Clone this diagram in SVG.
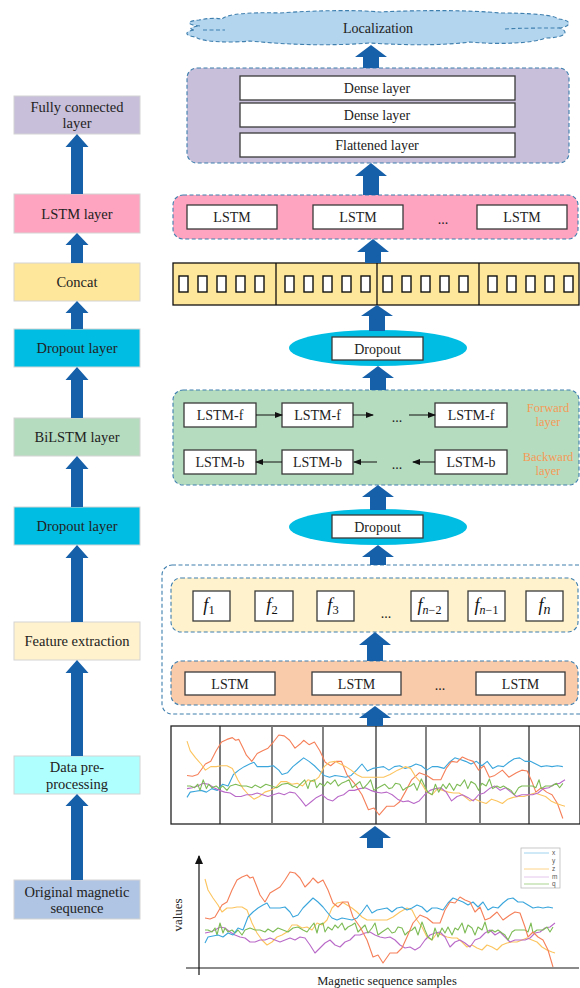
<svg xmlns="http://www.w3.org/2000/svg" width="580" height="988" viewBox="0 0 580 988">
<style>
.t{font-family:"Liberation Serif","Times New Roman",serif;fill:#222;text-anchor:middle}
.ls{font-size:14.5px}
.rs{font-size:14px}
.lb{stroke:#d4d4d4;stroke-width:1}
.fat{fill:#1660aa}
.cont{stroke:#3f7fae;stroke-width:1.1;stroke-dasharray:4 2.5}
.wb{fill:#fff;stroke:#3a3a3a;stroke-width:1.3}
.sq{fill:#fff;stroke:#111;stroke-width:1.4}
.or{font-family:"Liberation Serif",serif;font-size:12.5px;fill:#f59a55;text-anchor:middle}
.sm{stroke:#111;stroke-width:1;fill:none}
.ln{fill:none;stroke-width:1.1;stroke-linejoin:round}
.cx{stroke:#3aa6dc}.cy{stroke:#f57f58}.cz{stroke:#fcc45e}.cm{stroke:#b969c8}.cq{stroke:#7dbb55}
.fi{font-family:"Liberation Serif",serif;font-style:italic;font-size:18px;fill:#111;text-anchor:middle}
</style>
<defs>
<marker id="ah" markerWidth="8" markerHeight="6" refX="7" refY="3" orient="auto" markerUnits="userSpaceOnUse">
<path d="M0,0 L8,3 L0,6 Z" fill="#111"/>
</marker>
<marker id="ax" markerWidth="8" markerHeight="9" refX="4" refY="1" orient="0" markerUnits="userSpaceOnUse">
<path d="M0,9 L4,0 L8,9 Z" fill="#111"/>
</marker>
</defs>
<rect width="580" height="988" fill="#fff"/>

<!-- Left column -->
<g id="l-fc"><rect class="lb" x="14" y="96" width="126" height="38" fill="#c8bfda"/><text class="t ls" x="77" y="111.5">Fully connected</text><text class="t ls" x="77" y="127.5">layer</text></g>
<g id="l-lstm"><rect class="lb" x="14" y="194" width="126" height="39" fill="#ffa4c0"/><text class="t ls" x="77" y="218.5">LSTM layer</text></g>
<g id="l-concat"><rect class="lb" x="14" y="263" width="126" height="38" fill="#fee69a"/><text class="t ls" x="77" y="287">Concat</text></g>
<g id="l-drop1"><rect class="lb" x="14" y="329" width="126" height="38" fill="#00bde3"/><text class="t ls" x="77" y="353">Dropout layer</text></g>
<g id="l-bilstm"><rect class="lb" x="14" y="418" width="126" height="38" fill="#b6dcc0"/><text class="t ls" x="77" y="442">BiLSTM layer</text></g>
<g id="l-drop2"><rect class="lb" x="14" y="507" width="126" height="38" fill="#00bde3"/><text class="t ls" x="77" y="531">Dropout layer</text></g>
<g id="l-feat"><rect class="lb" x="14" y="622" width="126" height="38" fill="#fff2cc"/><text class="t ls" x="77" y="646">Feature extraction</text></g>
<g id="l-data"><rect class="lb" x="14" y="756" width="126" height="38" fill="#b0ffff"/><text class="t ls" x="77" y="771.5">Data pre-</text><text class="t ls" x="77" y="788.5">processing</text></g>
<g id="l-orig"><rect class="lb" x="14" y="880" width="126" height="39" fill="#b0c5e4"/><text class="t ls" x="77" y="896.5">Original magnetic</text><text class="t ls" x="77" y="912.5">sequence</text></g>

<!-- Right column nodes -->
<g id="r-cloud">
<path d="M200,26 C186,25 186,21 199,20 C208,18 216,18 222,19 C226,14 250,12 280,13 C320,10 360,10 380,12 C420,10 470,10 500,13 C530,13 555,15 558,19 C572,20 572,26 560,28 C570,32 565,38 545,38 C535,43 500,45 470,42 C440,46 400,45 370,43 C330,46 290,45 250,41 C230,43 200,42 196,37 C184,36 184,31 195,30 C188,29 190,27 200,26 Z" fill="#b3d5ee" class="cont"/>
<path d="M203,30 L225,30" class="cont" fill="none"/>
<path d="M505,29 C520,28 545,28 560,28" class="cont" fill="none"/>
<text class="t rs" x="378" y="32.5">Localization</text>
</g>
<g id="r-dense">
<rect class="cont" x="187" y="68" width="382" height="95" rx="10" fill="#c8bfda"/>
<rect class="wb" x="240" y="76" width="275" height="24"/><text class="t rs" x="377" y="93">Dense layer</text>
<rect class="wb" x="240" y="103" width="275" height="24"/><text class="t rs" x="377" y="120">Dense layer</text>
<rect class="wb" x="240" y="133" width="275" height="24"/><text class="t rs" x="377" y="150">Flattened layer</text>
</g>
<g id="r-lstm2">
<rect class="cont" x="173" y="195" width="405" height="44" rx="10" fill="#ffa4c0"/>
<rect class="wb" x="187" y="205" width="90" height="24"/><text class="t rs" x="232" y="222">LSTM</text>
<rect class="wb" x="313" y="205" width="90" height="24"/><text class="t rs" x="358" y="222">LSTM</text>
<text class="t rs" x="443" y="224">...</text>
<rect class="wb" x="477" y="205" width="90" height="24"/><text class="t rs" x="522" y="222">LSTM</text>
</g>
<g id="r-concat">
<rect x="173" y="263" width="406" height="42" fill="#fee69a" stroke="#111" stroke-width="1.3"/>
<path d="M276,263V305M377,263V305M479,263V305" stroke="#111" stroke-width="1.3"/>
<g class="sq">
<rect x="179" y="276" width="9" height="16"/><rect x="198" y="276" width="9" height="16"/><rect x="217" y="276" width="9" height="16"/><rect x="236" y="276" width="9" height="16"/><rect x="255" y="276" width="9" height="16"/>
<rect x="285" y="276" width="9" height="16"/><rect x="304" y="276" width="9" height="16"/><rect x="323" y="276" width="9" height="16"/><rect x="342" y="276" width="9" height="16"/><rect x="361" y="276" width="9" height="16"/>
<rect x="383" y="276" width="9" height="16"/><rect x="402" y="276" width="9" height="16"/><rect x="421" y="276" width="9" height="16"/><rect x="440" y="276" width="9" height="16"/><rect x="459" y="276" width="9" height="16"/>
<rect x="488" y="276" width="9" height="16"/><rect x="507" y="276" width="9" height="16"/><rect x="526" y="276" width="9" height="16"/><rect x="545" y="276" width="9" height="16"/><rect x="564" y="276" width="9" height="16"/>
</g>
</g>
<g id="r-drop1">
<ellipse cx="378" cy="348" rx="89" ry="18" fill="#00bde3"/>
<rect class="wb" x="332" y="337" width="91" height="23"/><text class="t rs" x="377.5" y="353.5">Dropout</text>
</g>
<g id="r-bilstm">
<rect class="cont" x="173" y="390" width="406" height="95" rx="10" fill="#b6dcc0"/>
<rect class="wb" x="184" y="403" width="72" height="24"/><text class="t rs" x="220" y="420">LSTM-f</text>
<rect class="wb" x="282" y="403" width="71" height="24"/><text class="t rs" x="317.5" y="420">LSTM-f</text>
<text class="t rs" x="397" y="422">...</text>
<rect class="wb" x="435" y="403" width="72" height="24"/><text class="t rs" x="471" y="420">LSTM-f</text>
<rect class="wb" x="184" y="450" width="72" height="24"/><text class="t rs" x="220" y="467">LSTM-b</text>
<rect class="wb" x="282" y="450" width="71" height="24"/><text class="t rs" x="317.5" y="467">LSTM-b</text>
<text class="t rs" x="397" y="469">...</text>
<rect class="wb" x="435" y="450" width="72" height="24"/><text class="t rs" x="471" y="467">LSTM-b</text>
<text class="or" x="548" y="411.5">Forward</text><text class="or" x="548" y="425.5">layer</text>
<text class="or" x="548" y="460.5">Backward</text><text class="or" x="548" y="474.5">layer</text>
</g>
<g id="r-drop2">
<ellipse cx="378" cy="527" rx="89" ry="18" fill="#00bde3"/>
<rect class="wb" x="332" y="515" width="91" height="23"/><text class="t rs" x="377.5" y="531.5">Dropout</text>
</g>
<g id="r-outer">
<rect class="cont" x="162" y="565" width="430" height="149" rx="10" fill="none"/>
</g>
<g id="r-feat">
<rect class="cont" x="171" y="578" width="407" height="54" rx="10" fill="#fff2cc"/>
<rect class="wb" x="193" y="591" width="37" height="30"/><text class="fi" x="209" y="611">f<tspan font-style="normal" font-size="12.5" dy="3">1</tspan></text>
<rect class="wb" x="255" y="591" width="38" height="30"/><text class="fi" x="272" y="611">f<tspan font-style="normal" font-size="12.5" dy="3">2</tspan></text>
<rect class="wb" x="317" y="591" width="37" height="30"/><text class="fi" x="333" y="611">f<tspan font-style="normal" font-size="12.5" dy="3">3</tspan></text>
<text class="t rs" x="386" y="618">...</text>
<rect class="wb" x="411" y="591" width="37" height="30"/><text class="fi" x="429.5" y="611">f<tspan font-size="12" dy="3">n</tspan><tspan font-style="normal" font-size="12">−2</tspan></text>
<rect class="wb" x="468" y="591" width="37" height="30"/><text class="fi" x="486.5" y="611">f<tspan font-size="12" dy="3">n</tspan><tspan font-style="normal" font-size="12">−1</tspan></text>
<rect class="wb" x="526" y="591" width="37" height="30"/><text class="fi" x="544.5" y="611">f<tspan font-size="14" dy="3">n</tspan></text>
</g>
<g id="r-lstm1">
<rect class="cont" x="171" y="661" width="407" height="44" rx="10" fill="#f9cbab"/>
<rect class="wb" x="185" y="672" width="90" height="23"/><text class="t rs" x="230" y="688.5">LSTM</text>
<rect class="wb" x="312" y="672" width="89" height="23"/><text class="t rs" x="356.5" y="688.5">LSTM</text>
<text class="t rs" x="440" y="690">...</text>
<rect class="wb" x="476" y="672" width="89" height="23"/><text class="t rs" x="520.5" y="688.5">LSTM</text>
</g>
<g id="r-chart1">
<rect x="171" y="726" width="409" height="98" fill="#fff" stroke="#222" stroke-width="1.3"/>
<path d="M220,726V824M376,726V824M529,726V824" stroke="#222" stroke-width="1.2"/>
<path d="M272,726V824M323,726V824M426,726V824M480,726V824" stroke="#777" stroke-width="1.8"/>
<g transform="matrix(1.08 0 0 0.879 -34.4 -31.5)">
<use href="#sx"/><use href="#sy"/><use href="#sz"/><use href="#sm"/><use href="#sq"/>
</g>
</g>
<g id="r-chart2">
<g id="series">
<polyline id="sz" class="ln cz" vector-effect="non-scaling-stroke" points="205,879 208,890 213,898 218,905 222,912 227,908 232,908 237,907 242,907 247,910 252,923 257,933 262,940 267,945 272,942 277,937 282,935 287,932 292,925 297,925 302,928 307,927 312,930 317,923 322,925 327,920 332,908 337,903 342,902 347,905 352,908 357,912 362,917 367,920 373,920 380,920 387,920 393,917 400,912 407,908 412,910 417,920 422,927 427,937 432,940 437,933 442,935 447,937 452,938 457,938 462,942 467,947 472,945 477,948 482,950 487,945 492,947 497,950 502,945 507,943 512,942 517,942 522,940 527,938 532,940 537,942 542,947 547,950 552,952 555,953"/>
<polyline id="sm" class="ln cm" vector-effect="non-scaling-stroke" points="205,933 210,932 215,930 220,927 225,928 230,932 235,935 240,937 245,938 250,942 255,942 260,940 265,940 270,938 275,940 280,942 285,940 290,938 295,940 300,937 305,938 310,945 315,953 320,948 325,943 330,940 335,945 340,947 345,942 350,940 355,935 360,935 365,933 370,932 375,935 380,937 385,938 390,937 395,940 400,945 405,948 410,947 415,950 420,947 425,940 430,935 435,933 440,932 445,937 450,947 455,942 460,940 465,943 470,947 475,940 480,938 485,933 490,930 495,935 500,932 505,937 510,942 515,940 520,940 525,940 530,938 535,933 540,932 545,928 550,927 555,923"/>
<polyline id="sq" class="ln cq" vector-effect="non-scaling-stroke" points="205,930 208,930 212,932 215,928 217,935 220,923 223,933 225,928 228,932 232,930 235,933 238,930 242,935 245,930 250,928 255,930 260,930 265,932 268,929 273,932 278,928 283,930 288,932 293,928 298,927 303,930 307,932 310,928 314,923 317,933 319,925 323,923 325,932 328,927 332,930 335,925 338,928 342,923 345,930 348,927 352,925 355,923 358,932 362,928 365,925 368,933 372,928 375,923 378,935 382,932 385,930 388,928 392,933 395,932 398,927 402,928 405,935 408,932 412,930 415,927 418,935 422,922 425,930 428,937 432,940 435,928 438,937 442,928 445,933 448,927 452,935 455,928 458,930 462,923 465,933 468,925 472,928 475,935 478,927 482,930 485,922 488,933 492,930 495,932 498,930 502,933 505,935 508,940 512,932 515,930 518,930 522,930 525,930 528,932 531,923 533,933 537,930 540,930 543,930 547,927 550,932 553,927"/>
<polyline id="sx" class="ln cx" vector-effect="non-scaling-stroke" points="205,943 208,937 213,936 218,935 223,937 228,933 233,935 238,928 243,930 248,917 253,912 258,908 263,905 267,903 270,908 275,908 280,908 285,907 290,912 293,917 298,915 303,908 308,903 313,898 318,902 323,907 327,912 332,918 337,920 342,918 347,919 352,920 357,918 362,912 367,905 372,913 377,910 382,909 387,908 392,912 397,908 402,907 407,910 412,908 417,905 422,907 427,912 432,908 437,908 443,910 448,903 453,898 458,900 463,902 468,905 473,902 478,907 483,902 488,910 493,907 498,908 503,903 508,899 513,898 518,902 523,902 528,905 533,908 538,907 543,908 548,907 553,908"/>
<polyline id="sy" class="ln cy" vector-effect="non-scaling-stroke" points="205,918 210,919 215,917 222,905 227,902 232,890 237,880 242,877 247,875 250,878 253,877 257,887 260,895 265,902 270,893 275,890 280,887 285,880 290,872 295,873 300,878 305,887 310,882 313,878 318,883 323,880 328,890 333,903 338,907 343,902 348,902 353,917 360,927 367,940 373,957 378,955 383,963 390,953 397,953 402,948 407,937 413,923 420,915 427,918 433,923 440,923 445,910 450,902 455,903 460,897 465,900 470,902 475,912 480,907 485,920 490,918 497,912 503,920 510,915 515,912 520,913 525,927 528,937 533,932 538,937 543,940 548,950 553,967"/>
</g>
<line x1="186" y1="968" x2="579" y2="968" stroke="#8a8a8a" stroke-width="2"/>
<line x1="199" y1="975" x2="199" y2="856" stroke="#111" stroke-width="1.2" marker-end="url(#ax)"/>
<text class="t" font-size="13" transform="translate(182,915) rotate(-90)">values</text>
<text class="t" font-size="12.5" x="387" y="985">Magnetic sequence samples</text>
<g id="legend">
<rect x="521" y="848" width="39" height="40" fill="#fff" stroke="#bbb" stroke-width="0.8"/>
<line x1="524" y1="853" x2="549" y2="853" stroke="#9fd3f0" stroke-width="1"/>
<line x1="524" y1="869" x2="549" y2="869" stroke="#fdd488" stroke-width="1"/>
<line x1="524" y1="877" x2="549" y2="877" stroke="#e6c6ec" stroke-width="1"/>
<line x1="524" y1="884" x2="549" y2="884" stroke="#a9d48f" stroke-width="1"/>
<g font-family="Liberation Sans,sans-serif" font-size="6.5" fill="#555">
<text x="552" y="855">x</text><text x="552" y="863">y</text><text x="552" y="871">z</text><text x="552" y="879">m</text><text x="552" y="886">q</text>
</g>
</g>
</g>

<!-- Connectors -->
<g id="connectors">
<g class="fat">
<polygon points="77,134 88.5,147 83,147 83,194 71,194 71,147 65.5,147"/>
<polygon points="77,233 88.5,245 83,245 83,263 71,263 71,245 65.5,245"/>
<polygon points="77,301 88.5,313 83,313 83,329 71,329 71,313 65.5,313"/>
<polygon points="77,367 88.5,380 83,380 83,418 71,418 71,380 65.5,380"/>
<polygon points="77,456 88.5,469 83,469 83,507 71,507 71,469 65.5,469"/>
<polygon points="77,545 88.5,558 83,558 83,622 71,622 71,558 65.5,558"/>
<polygon points="77,660 88.5,673 83,673 83,756 71,756 71,673 65.5,673"/>
<polygon points="77,794 88.5,806 83,806 83,880 71,880 71,806 65.5,806"/>

<polygon points="371,45 387,57 379,57 379,68 363,68 363,57 355,57"/>
<polygon points="371,163 387,176 379,176 379,195 363,195 363,176 355,176"/>
<polygon points="373,239 389,252 381,252 381,263 365,263 365,252 357,252"/>
<polygon points="377,305 393,316 385,316 385,331 369,331 369,316 361,316"/>
<polygon points="378,366 394,378 386,378 386,390 370,390 370,378 362,378"/>
<polygon points="378,485 394,497 386,497 386,510 370,510 370,497 362,497"/>
<polygon points="378,545 394,557 386,557 386,565 370,565 370,557 362,557"/>
<polygon points="375,632 391,645 383,645 383,661 367,661 367,645 359,645"/>
<polygon points="375,706 391,718 383,718 383,726 367,726 367,718 359,718"/>
<polygon points="375,826 391,838 383,838 383,848 367,848 367,838 359,838"/>
</g>
<g class="sm">
<line x1="256" y1="415" x2="282" y2="415" marker-end="url(#ah)"/>
<line x1="353" y1="415" x2="373" y2="415" marker-end="url(#ah)"/>
<line x1="409" y1="415" x2="435" y2="415" marker-end="url(#ah)"/>
<line x1="282" y1="462" x2="256" y2="462" marker-end="url(#ah)"/>
<line x1="377" y1="462" x2="354" y2="462" marker-end="url(#ah)"/>
<line x1="435" y1="462" x2="413" y2="462" marker-end="url(#ah)"/>
</g>
</g>
</svg>
